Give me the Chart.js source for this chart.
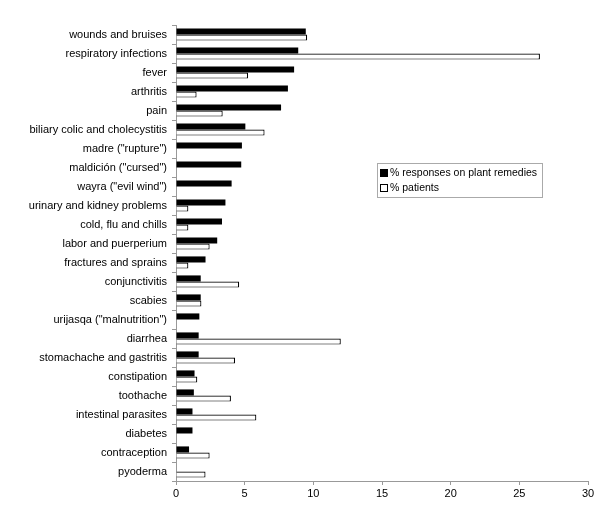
<!DOCTYPE html>
<html>
<head>
<meta charset="utf-8">
<script src="https://cdn.jsdelivr.net/npm/chart.js@4"></script>
<style>
body { margin: 0; background: #fff; }
#wrap { width: 600px; height: 510px; }
</style>
</head>
<body>
<div id="wrap"><canvas id="myChart" width="600" height="510"></canvas></div>
<script>
var categories = ['wounds and bruises', 'respiratory infections', 'fever', 'arthritis', 'pain',
    'biliary colic and cholecystitis', 'madre ("rupture")', 'maldición ("cursed")', 'wayra ("evil wind")',
    'urinary and kidney problems', 'cold, flu and chills', 'labor and puerperium', 'fractures and sprains',
    'conjunctivitis', 'scabies', 'urijasqa ("malnutrition")', 'diarrhea', 'stomachache and gastritis',
    'constipation', 'toothache', 'intestinal parasites', 'diabetes', 'contraception', 'pyoderma'];
var responses = [9.45, 8.9, 8.6, 8.15, 7.65, 5.05, 4.8, 4.75, 4.05, 3.6, 3.35, 3.0, 2.15,
    1.8, 1.8, 1.7, 1.65, 1.65, 1.35, 1.3, 1.2, 1.2, 0.95, 0];
var patients = [9.55, 26.5, 5.25, 1.5, 3.4, 6.45, 0, 0, 0, 0.9, 0.9, 2.45, 0.9,
    4.6, 1.85, 0, 12.0, 4.3, 1.55, 4.0, 5.85, 0, 2.45, 2.15];
var xTicks = [0, 5, 10, 15, 20, 25, 30];

var legendBox = {
    id: 'legendBox',
    afterDraw: function (chart) {
        var ctx = chart.ctx;
        var ds = chart.data.datasets;
        ctx.save();
        ctx.strokeStyle = '#aaa';
        ctx.lineWidth = 1;
        ctx.strokeRect(377.5, 163.5, 165, 34);
        ctx.font = '10.5px "Liberation Sans", Arial, sans-serif';
        ctx.textBaseline = 'middle';
        for (var i = 0; i < ds.length; i++) {
            var y = 173 + i * 15;
            ctx.fillStyle = ds[i].backgroundColor;
            ctx.fillRect(380, y - 4, 8, 8);
            ctx.strokeStyle = '#000';
            ctx.strokeRect(380.5, y - 3.5, 7, 7);
            ctx.fillStyle = '#000';
            ctx.fillText(ds[i].label, 390, y + 0.5);
        }
        ctx.restore();
    }
};

var ctx = document.getElementById('myChart').getContext('2d');
var myChart = new Chart(ctx, {
    type: 'bar',
    data: {
        labels: categories,
        datasets: [{
            label: '% responses on plant remedies',
            data: responses,
            backgroundColor: '#000',
            borderColor: '#000',
            borderWidth: 0
        }, {
            label: '% patients',
            data: patients,
            backgroundColor: '#fff',
            borderColor: '#000',
            borderWidth: 1.2
        }]
    },
    options: {
        indexAxis: 'y',
        responsive: false,
        animation: false,
        layout: { padding: { top: 25, right: 12, left: 0, bottom: 0 } },
        datasets: { bar: { categoryPercentage: 0.64, barPercentage: 1.0 } },
        plugins: { legend: { display: false }, tooltip: { enabled: false } },
        scales: {
            x: {
                min: 0,
                max: 30,
                afterBuildTicks: function (scale) {
                    scale.ticks = xTicks.map(function (v) { return { value: v }; });
                },
                afterFit: function (scale) { scale.height = 29; },
                grid: { drawOnChartArea: false, tickLength: 4, color: '#999' },
                border: { color: '#999' },
                ticks: { color: '#000', padding: 2, font: { family: '"Liberation Sans", Arial, sans-serif', size: 11 } }
            },
            y: {
                afterFit: function (scale) { scale.width = 176; },
                grid: { drawOnChartArea: false, tickLength: 4, color: '#999' },
                border: { color: '#999' },
                ticks: { color: '#000', padding: 5, font: { family: '"Liberation Sans", Arial, sans-serif', size: 11 } }
            }
        }
    },
    plugins: [legendBox]
});
</script>
</body>
</html>
